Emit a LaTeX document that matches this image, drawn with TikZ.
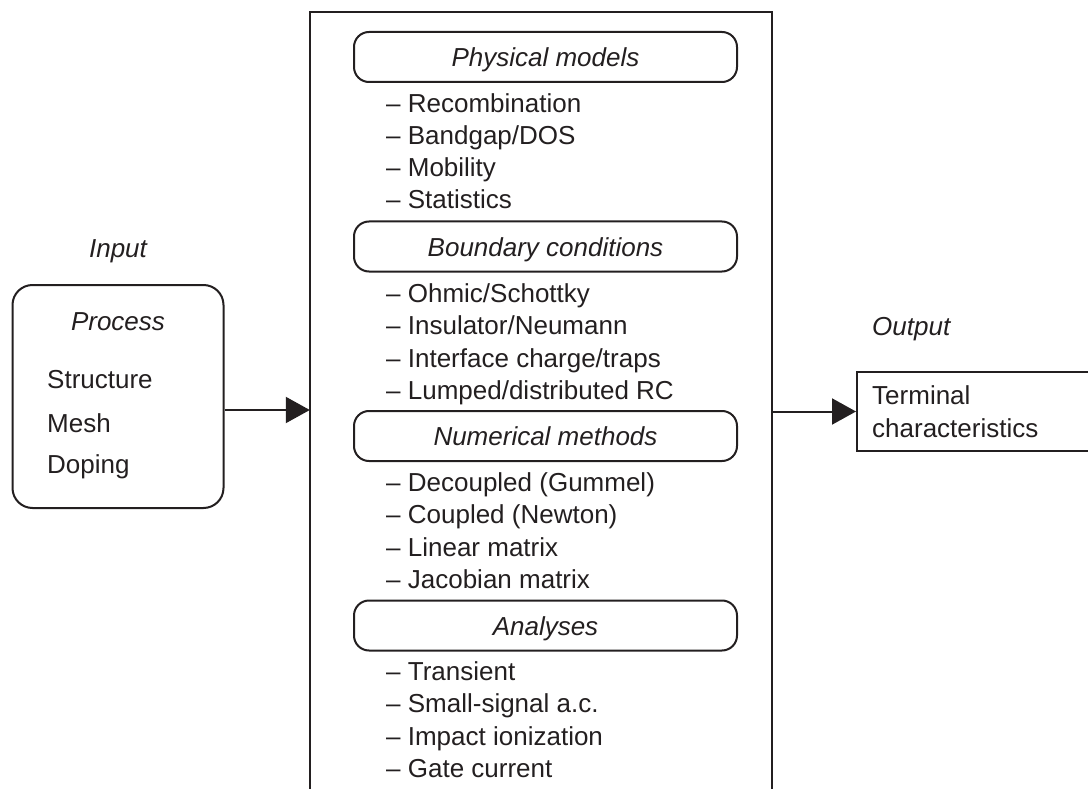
\documentclass[tikz,border=0pt]{standalone}
\usepackage{fontspec}
\setmainfont{Liberation Sans}
\usetikzlibrary{arrows.meta}
\definecolor{ink}{HTML}{231F20}
\begin{document}
\begin{tikzpicture}[x=1pt,y=-1pt,
  every node/.style={text=ink,font=\fontsize{26}{31}\selectfont},
  line/.style={draw=ink,line width=2pt},
  arr/.style={line, -{Triangle[length=24pt,width=26pt]}},
  head/.style={line,rounded corners=15pt,minimum width=383pt,minimum height=50pt,inner sep=0pt,
     text height=19pt,text depth=0pt,font=\fontsize{26}{31}\selectfont\itshape},
  item/.style={anchor=base west,inner sep=0pt},
  lab/.style={anchor=base,inner sep=0pt,font=\fontsize{26}{31}\selectfont\itshape}]
\useasboundingbox (0,0) rectangle (1088,789);

% input box
\node[line,rounded corners=20pt,minimum width=211pt,minimum height=223pt,inner sep=0pt] (proc) at (118,396.5) {};
\node[lab] (inlab) at (118,258) {Input};
\node[lab] (proct) at (118,330) {Process};
\node[item] (s1) at (47,388) {Structure};
\node[item] (s2) at (47,432) {Mesh};
\node[item] (s3) at (47,473) {Doping};

% main box (open at bottom)
\node[minimum width=462pt,minimum height=790pt,inner sep=0pt] (main) at (541,407) {};
\draw[line] (main.south west) -- (main.north west) -- (main.north east) -- (main.south east);

% headings
\node[head] (h1) at (545.5,57) {Physical models};
\node[head] (h2) at (545.5,246.5) {Boundary conditions};
\node[head] (h3) at (545.5,436) {Numerical methods};
\node[head] (h4) at (545.5,625.5) {Analyses};

% items
\node[item] (a1) at (386,113) {– Recombination};
\node[item] (a2) at (386,145) {– Bandgap/DOS};
\node[item] (a3) at (386,177) {– Mobility};
\node[item] (a4) at (386,209) {– Statistics};

\node[item] (b1) at (386,302) {– Ohmic/Schottky};
\node[item] (b2) at (386,334.5) {– Insulator/Neumann};
\node[item] (b3) at (386,367) {– Interface charge/traps};
\node[item] (b4) at (386,399) {– Lumped/distributed RC};

\node[item] (c1) at (386,491) {– Decoupled (Gummel)};
\node[item] (c2) at (386,523.5) {– Coupled (Newton)};
\node[item] (c3) at (386,556) {– Linear matrix};
\node[item] (c4) at (386,588) {– Jacobian matrix};

\node[item] (d1) at (386,680) {– Transient};
\node[item] (d2) at (386,712.5) {– Small-signal a.c.};
\node[item] (d3) at (386,745) {– Impact ionization};
\node[item] (d4) at (386,777) {– Gate current};

% output
\node[line,minimum width=232pt,minimum height=79pt,inner sep=0pt] (term) at (973,411.5) {};
\node[item] (t1) at (872,404) {Terminal};
\node[item] (t2) at (872,437) {characteristics};
\node[item,font=\fontsize{26}{31}\selectfont\itshape] (outlab) at (872,335) {Output};

% connectors
\coordinate (pin) at (proc.east |- 0,410);
\coordinate (min) at (main.west |- 0,410);
\draw[arr] (pin) -- (min);
\coordinate (mout) at (main.east |- term.west);
\draw[arr] (mout) -- (term.west);
\end{tikzpicture}
\end{document}
